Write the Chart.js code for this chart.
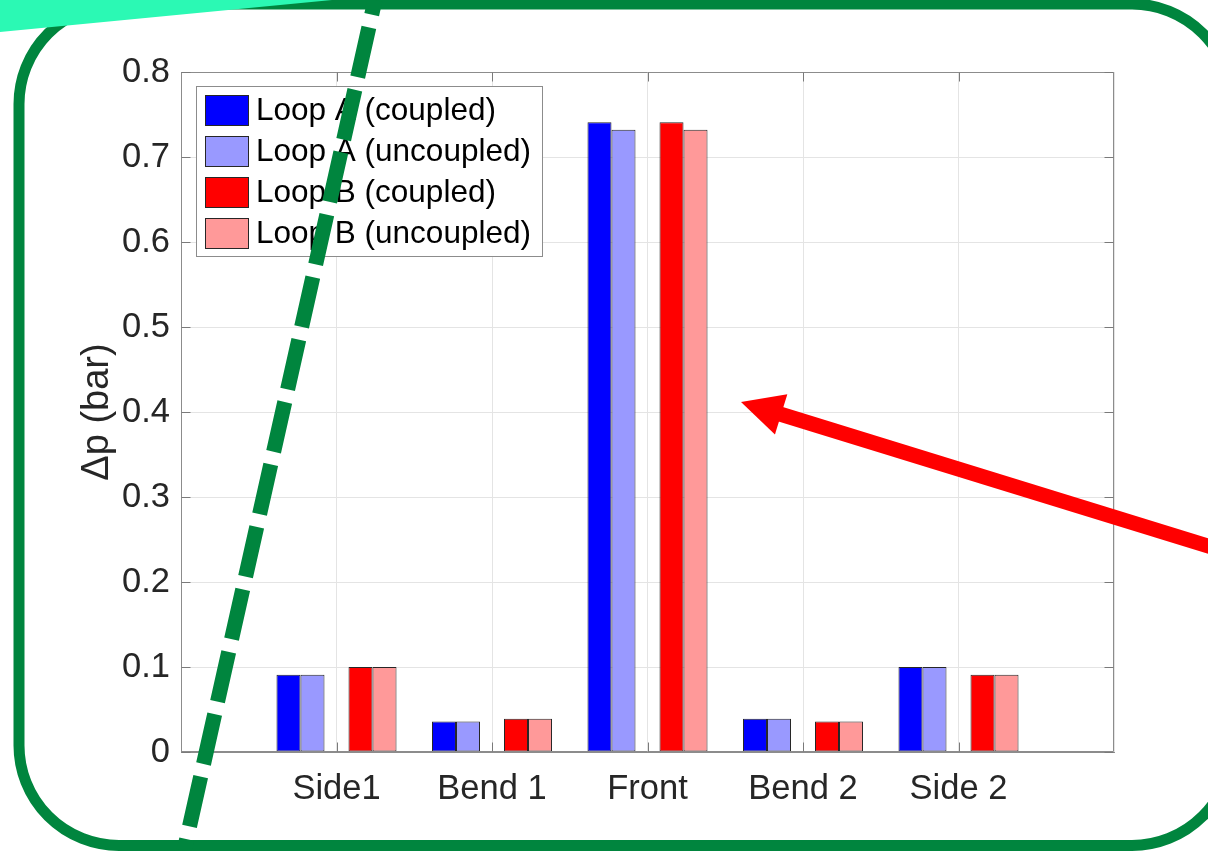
<!DOCTYPE html>
<html>
<head>
<meta charset="utf-8">
<script src="https://cdn.jsdelivr.net/npm/chart.js@4/dist/chart.umd.min.js"></script>
<style>
  html, body { margin: 0; padding: 0; background: #ffffff; overflow: hidden; }
  canvas { display: block; }
</style>
</head>
<body>
<canvas id="chart" width="1208" height="851"></canvas>
<script>
// Pressure drop per section, two loops, coupled vs. uncoupled runs
const categories     = ['Side1', 'Bend 1', 'Front', 'Bend 2', 'Side 2'];
const loopACoupled   = [0.091, 0.036, 0.741, 0.039, 0.100];
const loopAUncoupled = [0.091, 0.036, 0.732, 0.039, 0.100];
const loopBCoupled   = [0.100, 0.039, 0.741, 0.036, 0.091];
const loopBUncoupled = [0.100, 0.039, 0.732, 0.036, 0.091];
const gapSlot        = [null, null, null, null, null];   // empty slot between the loop A and loop B pairs
const seriesNames    = ['Loop A (coupled)', 'Loop A (uncoupled)', 'Loop B (coupled)', 'Loop B (uncoupled)'];
const seriesColors   = ['#0000ff', '#9999ff', '#ff0000', '#ff9999'];
const yTickLabels    = ['0', '0.1', '0.2', '0.3', '0.4', '0.5', '0.6', '0.7', '0.8'];
const yTitle         = 'Δp (bar)';

const FONT = "'Liberation Sans', Arial, Helvetica, sans-serif";
const AXIS_COLOR = '#8c8c8c';
const TEXT_COLOR = '#262626';
const GRID_COLOR = '#e4e4e4';
const EDGE_COLOR = '#262626';
const FRAME_GREEN = '#00853e';

// x runs from 0 to 6 with the sections sitting on 1..5
const axisLabels = ['', ...categories, ''];
const pad = v => [null, ...v, null];

const barStyle = {
  borderColor: EDGE_COLOR,
  borderWidth: 1,
  borderSkipped: false,
  inflateAmount: 0,
  categoryPercentage: 0.772,
  barPercentage: 1.0
};

const datasets = [
  { label: seriesNames[0], data: pad(loopACoupled),   backgroundColor: seriesColors[0], ...barStyle },
  { label: seriesNames[1], data: pad(loopAUncoupled), backgroundColor: seriesColors[1], ...barStyle },
  { label: '',             data: pad(gapSlot),        backgroundColor: 'rgba(0,0,0,0)', ...barStyle },
  { label: seriesNames[2], data: pad(loopBCoupled),   backgroundColor: seriesColors[2], ...barStyle },
  { label: seriesNames[3], data: pad(loopBUncoupled), backgroundColor: seriesColors[3], ...barStyle }
];

// Closed box around the plot plus inward tick marks on all four sides
const axesBox = {
  id: 'axesBox',
  afterDatasetsDraw(chart) {
    const { ctx, chartArea: a, scales: { x, y } } = chart;
    const L = Math.round(a.left) + 0.5, R = Math.round(a.right) - 0.5;
    const T = Math.round(a.top) + 0.5, B = Math.round(a.bottom) - 0.5;
    ctx.save();
    ctx.strokeStyle = AXIS_COLOR;
    ctx.lineWidth = 1;
    ctx.beginPath();
    ctx.moveTo(L, T); ctx.lineTo(R, T); ctx.lineTo(R, B);
    ctx.moveTo(L, T); ctx.lineTo(L, B); ctx.lineTo(R, B);
    ctx.stroke();
    const len = 9;
    ctx.strokeStyle = '#7a7a7a';
    ctx.beginPath();
    y.ticks.forEach(t => {
      const py = Math.round(y.getPixelForValue(t.value)) + 0.5;
      ctx.moveTo(L, py); ctx.lineTo(L + len, py);
      ctx.moveTo(R, py); ctx.lineTo(R - len, py);
    });
    for (let i = 1; i <= categories.length; i++) {
      const px = Math.round(x.getPixelForValue(i)) + 0.5;
      ctx.moveTo(px, B); ctx.lineTo(px, B - len);
      ctx.moveTo(px, T); ctx.lineTo(px, T + len);
    }
    ctx.stroke();
    ctx.restore();
  }
};

// Boxed legend in the upper-left corner of the plot
const boxLegend = {
  id: 'boxLegend',
  afterDatasetsDraw(chart) {
    const { ctx } = chart;
    const items = chart.data.datasets.filter(d => d.label);
    const bx = 196.5, by = 86.5, bw = 346, bh = 170;
    ctx.save();
    ctx.fillStyle = '#ffffff';
    ctx.fillRect(bx, by, bw, bh);
    ctx.strokeStyle = '#8c8c8c';
    ctx.lineWidth = 1;
    ctx.strokeRect(bx, by, bw, bh);
    ctx.font = `31.5px ${FONT}`;
    ctx.textBaseline = 'middle';
    ctx.textAlign = 'left';
    items.forEach((d, i) => {
      const cy = 110.5 + i * 41;
      ctx.fillStyle = d.backgroundColor;
      ctx.fillRect(205, cy - 15.5, 44, 31);
      ctx.strokeStyle = EDGE_COLOR;
      ctx.strokeRect(205.5, cy - 15, 43, 30);
      ctx.fillStyle = '#000000';
      ctx.fillText(d.label, 256, cy + 1);
    });
    ctx.restore();
  }
};

// Slide framing drawn around the figure: rounded frame, corner banner,
// dashed divider and the pointer arrow
const slideMarks = {
  id: 'slideMarks',
  afterDraw(chart) {
    const { ctx } = chart;
    ctx.save();
    // rounded frame
    ctx.strokeStyle = FRAME_GREEN;
    ctx.lineWidth = 11;
    ctx.beginPath();
    ctx.roundRect(19, 4, 1213, 841.5, 100);
    ctx.stroke();
    // corner banner
    ctx.fillStyle = '#2bf9b4';
    ctx.beginPath();
    ctx.moveTo(0, 0); ctx.lineTo(332, 0); ctx.lineTo(0, 32); ctx.closePath();
    ctx.fill();
    // dashed divider
    ctx.strokeStyle = FRAME_GREEN;
    ctx.lineWidth = 15;
    ctx.lineCap = 'butt';
    ctx.setLineDash([51, 13]);
    ctx.lineDashOffset = 36;
    ctx.beginPath();
    ctx.moveTo(375, 0); ctx.lineTo(184, 851);
    ctx.stroke();
    ctx.setLineDash([]);
    // pointer arrow
    const tip = { x: 741, y: 402 };
    const dx = 467, dy = 144, n = Math.hypot(dx, dy);
    const ux = dx / n, uy = dy / n, px = -uy, py = ux;
    const headLen = 42, headHalf = 21;
    ctx.strokeStyle = '#ff0000';
    ctx.fillStyle = '#ff0000';
    ctx.lineWidth = 15;
    ctx.beginPath();
    ctx.moveTo(tip.x + ux * (headLen - 3), tip.y + uy * (headLen - 3));
    ctx.lineTo(tip.x + ux * 540, tip.y + uy * 540);
    ctx.stroke();
    const bxh = tip.x + ux * headLen, byh = tip.y + uy * headLen;
    ctx.beginPath();
    ctx.moveTo(tip.x, tip.y);
    ctx.lineTo(bxh + px * headHalf, byh + py * headHalf);
    ctx.lineTo(bxh - px * headHalf, byh - py * headHalf);
    ctx.closePath();
    ctx.fill();
    ctx.restore();
  }
};

new Chart(document.getElementById('chart'), {
  type: 'bar',
  data: { labels: axisLabels, datasets },
  options: {
    responsive: false,
    animation: false,
    devicePixelRatio: 1,
    layout: { padding: { top: 72, right: 94, left: 0, bottom: 0 } },
    plugins: { legend: { display: false }, tooltip: { enabled: false } },
    scales: {
      x: {
        type: 'category',
        offset: false,
        afterFit: s => { s.height = 99; },
        grid: { color: GRID_COLOR, drawTicks: false, offset: false },
        border: { color: AXIS_COLOR, width: 1 },
        ticks: {
          color: TEXT_COLOR,
          font: { family: FONT, size: 34.5 },
          padding: 17,
          maxRotation: 0,
          autoSkip: false
        }
      },
      y: {
        min: 0,
        max: 0.8,
        afterFit: s => { s.width = 181; },
        grid: { color: GRID_COLOR, drawTicks: false },
        border: { color: AXIS_COLOR, width: 1 },
        ticks: {
          stepSize: 0.1,
          color: TEXT_COLOR,
          font: { family: FONT, size: 34.5 },
          padding: 11,
          callback: (v, i) => yTickLabels[i]
        },
        title: {
          display: true,
          text: yTitle,
          color: TEXT_COLOR,
          font: { family: FONT, size: 38 },
          padding: { top: 75, bottom: 0 }
        }
      }
    }
  },
  plugins: [axesBox, boxLegend, slideMarks]
});
</script>
</body>
</html>
